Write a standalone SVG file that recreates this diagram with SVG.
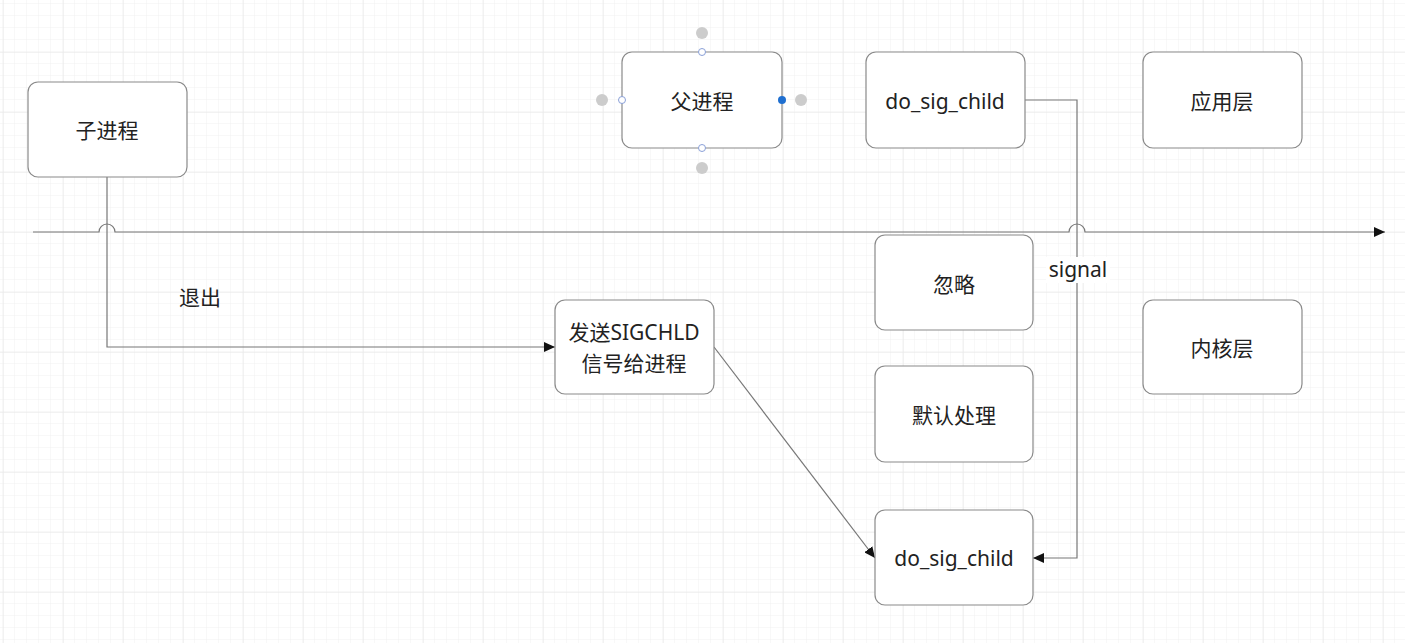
<svg xmlns="http://www.w3.org/2000/svg" width="1405" height="643" viewBox="0 0 1405 643">
<defs>
<pattern id="minor" width="12" height="12" patternUnits="userSpaceOnUse" x="3" y="4">
<path d="M12 0V12M0 12H12" fill="none" stroke="#f0f0f0" stroke-width="1"/>
</pattern>
<pattern id="major" width="60" height="60" patternUnits="userSpaceOnUse" x="3" y="52">
<path d="M0 0V60M0 0H60" fill="none" stroke="#e6e6e6" stroke-width="1"/>
</pattern>
<marker id="arr" markerWidth="12" markerHeight="10" refX="11" refY="5" orient="auto" markerUnits="userSpaceOnUse">
<path d="M0 0L11 5L0 10Z" fill="#111"/>
</marker>
</defs>
<style>
.box{fill:#fff;stroke:#8a8a8a;stroke-width:1.2}
.t{font-family:"Noto Sans","Noto Sans CJK SC",sans-serif;font-size:21px;fill:#222;text-anchor:middle;dominant-baseline:central}
.ln{fill:none;stroke:#777;stroke-width:1.2}
.h{fill:#fff;stroke:#8aa0d8;stroke-width:1}
.g{fill:#ccc}
</style>
<rect width="1405" height="643" fill="#fff"/>
<rect width="1405" height="643" fill="url(#minor)"/>
<rect width="1405" height="643" fill="url(#major)"/>

<g id="connectors">
<path class="ln" d="M33 232H99A8 8 0 0 1 115 232H1069A8 8 0 0 1 1085 232H1385" marker-end="url(#arr)"/>
<path class="ln" d="M107 177V347H555" marker-end="url(#arr)"/>
<path class="ln" d="M1025 100H1077V558H1033" marker-end="url(#arr)"/>
<path class="ln" d="M714 347L875 558" marker-end="url(#arr)"/>
<text class="t" x="200" y="297">退出</text>
<rect x="1046" y="257" width="64" height="26" fill="#fff"/>
<text class="t" x="1078" y="269">signal</text>
</g>

<g id="n-child"><rect class="box" x="28" y="82" width="159" height="95" rx="10"/><text class="t" x="107" y="130">子进程</text></g>
<g id="n-parent">
<circle class="g" cx="702" cy="33" r="6"/><circle class="g" cx="702" cy="168" r="6"/><circle class="g" cx="602" cy="100" r="6"/><circle class="g" cx="801" cy="100" r="6"/>
<rect class="box" x="622" y="52" width="160" height="96" rx="10"/><text class="t" x="702" y="101">父进程</text>
<circle class="h" cx="702" cy="52" r="3.5"/><circle class="h" cx="702" cy="148" r="3.5"/><circle class="h" cx="622" cy="100" r="3.5"/><circle cx="782" cy="100" r="4" fill="#1f6fd0"/>
</g>
<g id="n-dosig-top"><rect class="box" x="866" y="52" width="159" height="96" rx="10"/><text class="t" x="945" y="101">do_sig_child</text></g>
<g id="n-app"><rect class="box" x="1143" y="52" width="159" height="96" rx="10"/><text class="t" x="1222" y="101">应用层</text></g>
<g id="n-ignore"><rect class="box" x="875" y="235" width="158" height="95" rx="10"/><text class="t" x="954" y="284">忽略</text></g>
<g id="n-default"><rect class="box" x="875" y="366" width="158" height="96" rx="10"/><text class="t" x="954" y="415">默认处理</text></g>
<g id="n-dosig-bot"><rect class="box" x="875" y="510" width="158" height="95" rx="10"/><text class="t" x="954" y="558">do_sig_child</text></g>
<g id="n-kernel"><rect class="box" x="1143" y="300" width="159" height="94" rx="10"/><text class="t" x="1222" y="348">内核层</text></g>
<g id="n-send"><rect class="box" x="555" y="300" width="159" height="94" rx="10"/><text class="t" x="634" y="332">发送SIGCHLD</text><text class="t" x="634" y="363">信号给进程</text></g>
</svg>
